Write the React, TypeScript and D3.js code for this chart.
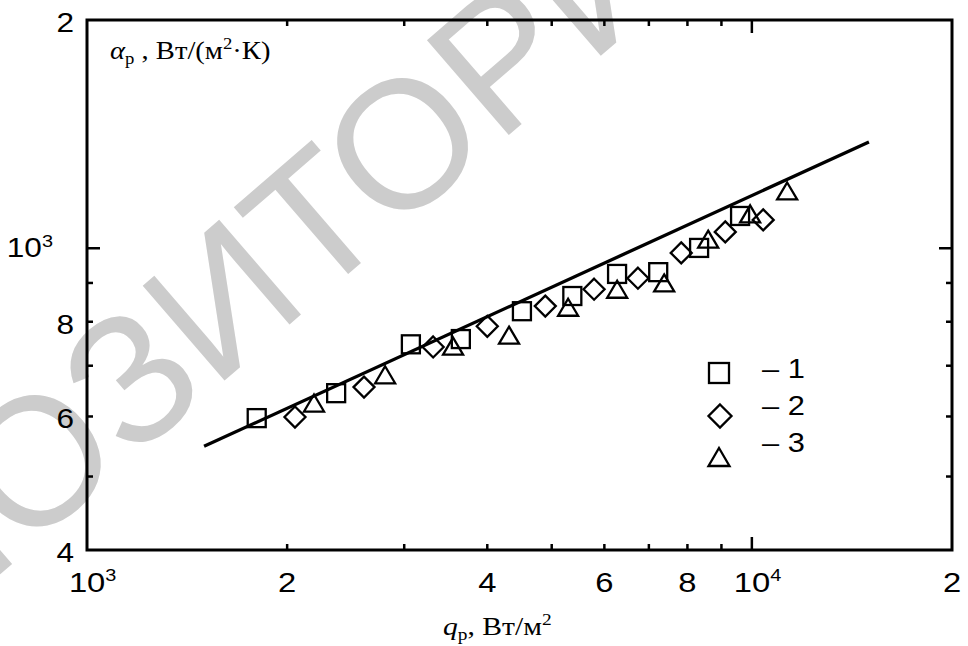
import React from 'react';
import * as d3 from 'd3';

const W = 968;
const H = 646;

const xDomain = [1000, 20000];
const yDomain = [400, 2000];

const series1Q = [1800, 2370, 3070, 3650, 4510, 5370, 6270, 7230, 8330, 9600];
const series1A = [597, 644, 747, 759, 826, 865, 925, 930, 1001, 1103];
const series2Q = [2055, 2610, 3316, 4000, 4890, 5790, 6740, 7830, 9120, 10400];
const series2A = [599, 656, 741, 789, 839, 883, 913, 986, 1051, 1090];
const series3Q = [2195, 2808, 3553, 4313, 5292, 6272, 7381, 8596, 9940, 11300];
const series3A = [625, 681, 743, 768, 836, 883, 900, 1028, 1110, 1190];
const lineQ = [1500, 15000];
const lineA = [548, 1381];

const xMinorTicks = [2000, 3000, 4000, 5000, 6000, 7000, 8000, 9000];
const xMajorTicks = [10000];
const yMinorTicks = [500, 600, 700, 800, 900];
const yMajorTicks = [1000];

const xLabelValues = [1000, 2000, 4000, 6000, 8000, 10000, 20000];
const xLabelTexts = ['10', '2', '4', '6', '8', '10', '2'];
const xLabelSups = ['3', '', '', '', '', '4', ''];
const yLabelValues = [2000, 1000, 800, 600, 400];
const yLabelTexts = ['2', '10', '8', '6', '4'];
const yLabelSups = ['', '3', '', '', ''];

const legendNames = ['1', '2', '3'];

const M = { left: 87, right: 952, top: 20, bottom: 550 };
const SX = 1.17;
const SANS = 'Liberation Sans, Arial, sans-serif';
const SERIF = 'Liberation Serif, Times New Roman, serif';

function Square({ x, y, s }: { x: number; y: number; s: number }) {
  return <rect x={x - s / 2} y={y - s / 2} width={s} height={s} fill="none" stroke="#000" strokeWidth={2.3} />;
}
function Diamond({ x, y, s }: { x: number; y: number; s: number }) {
  const r = s / 2;
  return <path d={`M${x},${y - r}L${x + r},${y}L${x},${y + r}L${x - r},${y}Z`} fill="none" stroke="#000" strokeWidth={2.3} />;
}
function Tri({ x, y, w, h }: { x: number; y: number; w: number; h: number }) {
  return <path d={`M${x},${y - h / 2}L${x + w / 2},${y + h / 2}L${x - w / 2},${y + h / 2}Z`} fill="none" stroke="#000" strokeWidth={2.3} strokeLinejoin="miter" />;
}

export default function App() {
  const x = d3.scaleLog().domain(xDomain).range([M.left, M.right]);
  const y = d3.scaleLog().domain(yDomain).range([M.bottom, M.top]);
  const line = d3.line<[number, number]>().x(d => x(d[0])).y(d => y(d[1]));
  const linePts: [number, number][] = lineQ.map((q, i) => [q, lineA[i]]);

  const minorLen = 6;
  const majorLen = 13;
  const XF = 28;
  const YF = 27;

  return (
    <svg width={W} height={H} style={{ position: 'absolute', left: 0, top: 0, background: '#fff' }}>
      <rect width={W} height={H} fill="#fff" />
      {/* watermark */}
      <text
        transform="translate(221,297) rotate(-40.8)"
        textAnchor="middle"
        dy="0.36em"
        fontFamily={SANS}
        fontSize={182}
        fill="#cccccc"
      >РЕПОЗИТОРИЙ</text>

      {/* frame */}
      <rect x={M.left} y={M.top} width={M.right - M.left} height={M.bottom - M.top} fill="none" stroke="#000" strokeWidth={3} />

      {/* ticks */}
      {xMinorTicks.map(v => (
        <g key={'xm' + v}>
          <line x1={x(v)} x2={x(v)} y1={M.bottom} y2={M.bottom - minorLen} stroke="#000" strokeWidth={2.5} />
          <line x1={x(v)} x2={x(v)} y1={M.top} y2={M.top + minorLen} stroke="#000" strokeWidth={2.5} />
        </g>
      ))}
      {xMajorTicks.map(v => (
        <g key={'xM' + v}>
          <line x1={x(v)} x2={x(v)} y1={M.bottom} y2={M.bottom - majorLen} stroke="#000" strokeWidth={2.5} />
          <line x1={x(v)} x2={x(v)} y1={M.top} y2={M.top + majorLen} stroke="#000" strokeWidth={2.5} />
        </g>
      ))}
      {yMinorTicks.map(v => (
        <g key={'ym' + v}>
          <line x1={M.left} x2={M.left + minorLen} y1={y(v)} y2={y(v)} stroke="#000" strokeWidth={2.5} />
          <line x1={M.right} x2={M.right - minorLen} y1={y(v)} y2={y(v)} stroke="#000" strokeWidth={2.5} />
        </g>
      ))}
      {yMajorTicks.map(v => (
        <g key={'yM' + v}>
          <line x1={M.left} x2={M.left + majorLen} y1={y(v)} y2={y(v)} stroke="#000" strokeWidth={2.5} />
          <line x1={M.right} x2={M.right - majorLen} y1={y(v)} y2={y(v)} stroke="#000" strokeWidth={2.5} />
        </g>
      ))}

      {/* x tick labels */}
      {xLabelValues.map((v, i) => (
        xLabelSups[i] ? (
          <text key={'xl' + v} transform={`translate(${x(v)},592) scale(${SX},1)`} x={-15.5} textAnchor="start" fontFamily={SANS} fontSize={XF}>
            {xLabelTexts[i]}
            <tspan fontSize={17} dy={-11}>{xLabelSups[i]}</tspan>
          </text>
        ) : (
          <text key={'xl' + v} transform={`translate(${x(v)},592) scale(${SX},1)`} textAnchor="middle" fontFamily={SANS} fontSize={XF}>{xLabelTexts[i]}</text>
        )
      ))}
      {/* y tick labels */}
      {yLabelValues.map((v, i) => (
        yLabelSups[i] ? (
          <text key={'yl' + v} transform={`translate(53,${y(v) + 9}) scale(${SX},1)`} textAnchor="end" fontFamily={SANS} fontSize={YF}>
            {yLabelTexts[i]}
            <tspan fontSize={17} dy={-10}>{yLabelSups[i]}</tspan>
          </text>
        ) : (
          <text key={'yl' + v} transform={`translate(74,${y(v) + 12}) scale(${SX},1)`} textAnchor="end" fontFamily={SANS} fontSize={YF}>{yLabelTexts[i]}</text>
        )
      ))}

      {/* axis titles */}
      <text transform={`translate(110,59) scale(1.1,1)`} fontFamily={SERIF} fontSize={26}>
        <tspan fontStyle="italic">α</tspan>
        <tspan fontSize={17} dy={5}>p</tspan>
        <tspan dy={-5}> , Вт/(м</tspan>
        <tspan fontSize={17} dy={-10}>2</tspan>
        <tspan dy={10}>·К)</tspan>
      </text>
      <text transform={`translate(443,635) scale(1.14,1)`} fontFamily={SERIF} fontSize={26}>
        <tspan fontStyle="italic">q</tspan>
        <tspan fontSize={17} dy={5}>p</tspan>
        <tspan dy={-5}>, Вт/м</tspan>
        <tspan fontSize={17} dy={-10}>2</tspan>
      </text>

      {/* fit line */}
      <path d={line(linePts) || ''} fill="none" stroke="#000" strokeWidth={3.3} />

      {/* data */}
      {series1Q.map((q, i) => <Square key={'s1' + i} x={x(q)} y={y(series1A[i])} s={18} />)}
      {series2Q.map((q, i) => <Diamond key={'s2' + i} x={x(q)} y={y(series2A[i])} s={21} />)}
      {series3Q.map((q, i) => <Tri key={'s3' + i} x={x(q)} y={y(series3A[i])} w={20} h={17} />)}

      {/* legend */}
      <Square x={719} y={373} s={20} />
      <Diamond x={720} y={416} s={23} />
      <Tri x={719} y={457} w={21} h={18} />
      {legendNames.map((n, i) => (
        <text key={'lg' + n} transform={`translate(762,${378 + i * 37}) scale(1.1,1)`} fontFamily={SANS} fontSize={28}>{'– ' + n}</text>
      ))}
    </svg>
  );
}
